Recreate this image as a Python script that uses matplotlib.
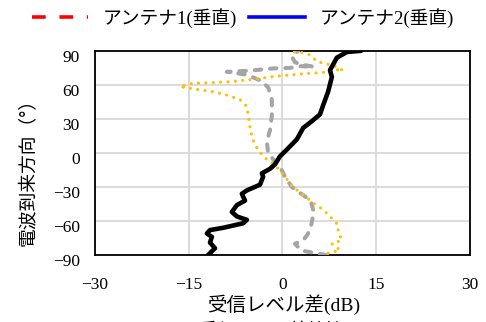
import numpy as np
import matplotlib
matplotlib.use('Agg')
import matplotlib.pyplot as plt
from matplotlib.lines import Line2D
from matplotlib.transforms import ScaledTranslation

plt.rcParams['font.family'] = ['Liberation Serif', 'Noto Sans CJK JP']

# 受信レベル差(dB) と到来方向(°) の測定点
black_x = [-11.9, -10.8, -11.6, -11.3, -12.1, -11.6, -9.5, -6.3, -5.7, -7.3, -8.1, -7.3,
           -6.0, -6.5, -5.7, -3.6, -3.1, -3.3, -2.0, -1.2, -0.4, 0.7, 2.3, 3.3, 4.7,
           6.0, 6.5, 7.3, 7.9, 7.6, 8.1, 8.7, 10.3, 12.4]
black_y = [-90, -84, -79, -74, -71, -68, -66, -62, -59, -56, -52, -46,
           -42, -36, -33, -28, -21, -18, -14, -10, -3, 3, 12, 22, 28,
           34, 42, 54, 67, 73, 78, 84, 89, 90]

gray_x = [7.0, 5.0, 3.0, 2.0, 3.3, 4.0, 4.5, 4.8, 4.9, 4.5, 3.0, 1.5, 0.4, -0.4, -1.0,
          -2.3, -2.5, -2.0, -1.7, -1.7, -2.3, -3.6, -5.7, -8.9, -5.2, -1.5, 1.2, 3.0,
          5.0, 3.0, 2.0, 1.5, 2.0, 2.5]
gray_y = [-90, -88, -86, -80, -77, -72, -66, -58, -50, -42, -36, -30, -21, -12, -9,
          0, 10, 20, 33, 47, 58, 64, 69, 71.5, 72.6, 74.5, 75, 76.5,
          76, 78, 80, 85, 88, 90]

orange_x = [7.3, 9.2, 7.9, 9.5, 8.9, 8.9, 7.9, 6.5, 4.9, 3.3, 1.7, 0.1, -1.2, -2.0,
            -3.1, -4.4, -4.9, -5.2, -5.5, -5.7, -6.8, -8.9, -11.1, -13.2, -14.8, -16.4,
            -14.3, -11.1, -7.9, -4.7, -1.5, 1.2, 4.4, 6.5, 8.0, 9.7, 8.7, 6.8, 5.5,
            4.4, 3.1, 1.5]
orange_y = [-88.5, -85.6, -80, -77, -69, -63.5, -57.6, -50, -44, -37, -30, -19, -10.6, -7.6,
            -3, 7, 14.4, 23, 33.5, 41, 47, 51, 54, 55.6, 57, 58.5,
            61.5, 62, 63, 65, 67.3, 68.8, 70.3, 71, 74, 72.6, 76, 79, 80.6,
            86.5, 88.5, 89.5]

x_ticks = [-30, -15, 0, 15, 30]
y_ticks = [-90, -60, -30, 0, 30, 60, 90]
legend_labels = ['アンテナ1(垂直)', 'アンテナ2(垂直)']


def fmt(v):
    return str(v).replace('-', '\u2212')


fig = plt.figure(figsize=(4.86, 3.22), dpi=100)
ax = fig.add_axes([0.1955, 0.208, 0.7715, 0.634])

ax.plot(gray_x, gray_y, color='#A5A5A5', lw=2.9, linestyle=(0, (1.6, 2.2)),
        dash_capstyle='round', solid_capstyle='round', zorder=3)
ax.plot(orange_x, orange_y, color='#FFC000', lw=2.3, linestyle=(0, (0.01, 2.3)),
        dash_capstyle='round', zorder=4)
ax.plot(black_x, black_y, color='black', lw=3.3, solid_joinstyle='round', zorder=5)

ax.set_xlim(-30, 30)
ax.set_ylim(-90, 90)
ax.set_xticks(x_ticks)
ax.set_yticks(y_ticks)
ax.set_xticklabels([fmt(v) for v in x_ticks])
ax.set_yticklabels([fmt(v) for v in y_ticks])
ax.grid(True, color='#D9D9D9', lw=1.3)
ax.set_axisbelow(True)
ax.tick_params(length=0, labelsize=12.5)
ax.tick_params(axis='x', pad=16)
ax.tick_params(axis='y', pad=11)
for lab in ax.get_yticklabels():
    lab.set_transform(lab.get_transform() + ScaledTranslation(0, -0.05, fig.dpi_scale_trans))
for sp in ax.spines.values():
    sp.set_color('black')
    sp.set_linewidth(1.3)

fig.text(0.584, 0.055, '受信レベル差(dB)', ha='center', va='center', fontsize=14,
         family=['Liberation Serif', 'Noto Sans CJK JP'])
fig.text(0.058, 0.48, '電波到来方向（°）', ha='center', va='center', rotation=90,
         fontsize=13.5, family=['Noto Sans CJK JP', 'DejaVu Sans'])

handles = [Line2D([], [], color='red', lw=2.6, linestyle=(0, (3.8, 3.8))),
           Line2D([], [], color='blue', lw=2.6)]
fig.legend(handles, legend_labels, loc='center', bbox_to_anchor=(0.5, 0.945), ncol=2,
           frameon=False, fontsize=13.5, handlelength=3.0, columnspacing=0.6,
           handletextpad=0.8)

fig.text(0.105, -0.053, '図 4  アンテナ間の受信レベル差特性', ha='left', va='bottom',
         fontsize=13, family=['Noto Sans CJK JP', 'DejaVu Sans'])

fig.savefig('out.png', dpi=100)
